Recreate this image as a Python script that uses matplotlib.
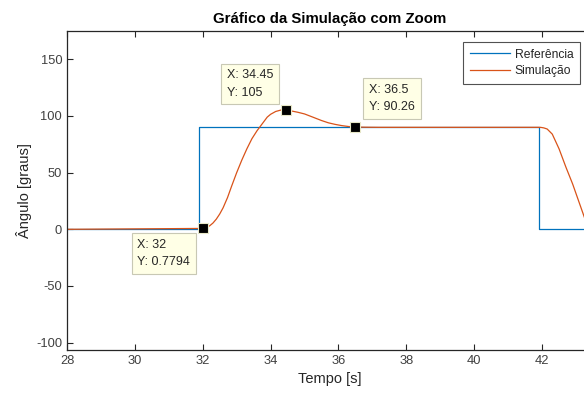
import matplotlib
matplotlib.use("Agg")
import matplotlib.pyplot as plt

# reference (step signal)
ref_t = [28, 31.9, 41.9, 43.5]
ref_y = [0, 90, 0, 0]

# simulated response
sim_t = [28, 32.0, 32.1, 32.2, 32.3, 32.4, 32.5, 32.6, 32.73, 32.85, 33.0, 33.15, 33.3,
         33.45, 33.6, 33.75, 33.9, 34.0, 34.15, 34.3, 34.45, 34.6, 34.8, 35.0, 35.2,
         35.5, 35.7, 35.9, 36.1, 36.3, 36.5, 36.8, 37.2, 41.95, 42.05, 42.15, 42.3,
         42.5, 42.7, 42.9, 43.1, 43.3]
sim_y = [0, 0.78, 1.5, 3, 5.5, 9, 13.5, 19, 28, 38, 50, 61, 71,
         80, 87, 93, 99, 101.5, 104, 105.2, 105, 104.5, 103.3, 101.8, 99.5,
         96, 94, 92.6, 91.5, 90.7, 90.26, 90.1, 90, 90, 89.5, 88.5, 84,
         71, 55, 40, 23, 6]

# data tips
tip_x = [32, 34.45, 36.5]
tip_y = [0.7794, 105, 90.26]
tip_labels = ["X: 32\nY: 0.7794", "X: 34.45\nY: 105", "X: 36.5\nY: 90.26"]

plt.rcParams['font.family'] = ['Liberation Sans', 'DejaVu Sans']
plt.rcParams['axes.unicode_minus'] = False

fig = plt.figure(figsize=(5.84, 3.94), dpi=100)
ax = fig.add_axes([67 / 584, 1 - 350 / 394, 526 / 584, 319 / 394])

ax.plot(ref_t, ref_y, color="#0072BD", lw=0.9, drawstyle="steps-post", label="Referência")
ax.plot(sim_t, sim_y, color="#D95319", lw=0.9, label="Simulação")

ax.set_xlim(28, 43.5)
ax.set_ylim(-106.5, 175)
ax.set_xticks([28, 30, 32, 34, 36, 38, 40, 42])
ax.set_yticks([-100, -50, 0, 50, 100, 150])

ax.tick_params(direction="in", length=4, width=0.8, labelsize=9.3, colors="#262626",
               labelcolor="#404040", top=True, right=True)
for sp in ax.spines.values():
    sp.set_color("#262626")
    sp.set_linewidth(0.9)

ax.set_title("Gráfico da Simulação com Zoom", fontsize=10.8, fontweight="bold", pad=6)
ax.set_xlabel("Tempo [s]", fontsize=10.5, color="#262626", labelpad=4)
ax.set_ylabel("Ângulo [graus]", fontsize=10.5, color="#262626", labelpad=3)

offsets = [(-9.1, -7.6), (-9.1, 8.4), (9.8, 9.8)]
aligns = [("right", "top"), ("right", "bottom"), ("left", "bottom")]
for x, y, lab, off, al in zip(tip_x, tip_y, tip_labels, offsets, aligns):
    ax.plot(x, y, "s", color="black", ms=7, mec="#e8e8c8", mew=0.8, zorder=5)
    ax.annotate(lab, (x, y), xytext=off, textcoords="offset points",
                ha=al[0], va=al[1], multialignment="left", fontsize=9,
                color="#262626", linespacing=1.6,
                bbox=dict(boxstyle="square,pad=0.45", fc="#ffffe6", ec="#c8c8b4", lw=0.8),
                zorder=6)

leg = ax.legend(loc="upper right", bbox_to_anchor=(580 / 584, 1 - 42 / 394),
                bbox_transform=fig.transFigure, fontsize=8.7, frameon=True,
                fancybox=False, handlelength=3.3, borderpad=0.55, labelspacing=0.35,
                handletextpad=0.4, borderaxespad=0)
leg.get_frame().set_edgecolor("#262626")
leg.get_frame().set_linewidth(0.8)
for t in leg.get_texts():
    t.set_color("#262626")

fig.savefig("out.png", dpi=100)
